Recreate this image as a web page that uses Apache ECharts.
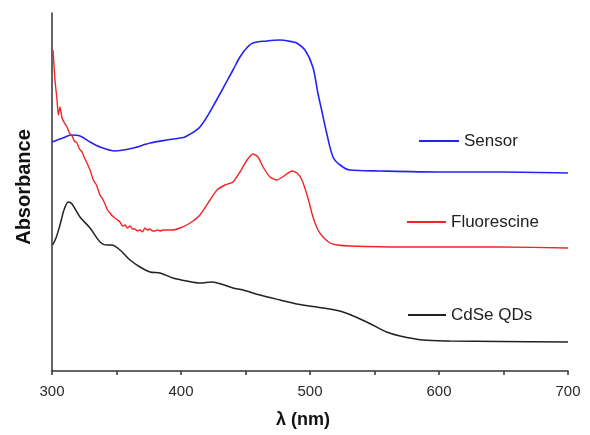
<!DOCTYPE html>
<html>
<head>
<meta charset="utf-8">
<script src="https://cdn.jsdelivr.net/npm/echarts@6/dist/echarts.min.js"></script>
<style>html,body{margin:0;padding:0;background:#fff}#c{width:590px;height:435px}</style>
</head>
<body>
<div id="c"></div>
<script>
// Wavelength (nm) / absorbance (a.u., offset traces)
var sensorData = [
  [300.0,2.29],[308.3,2.33],[315.0,2.36],[321.7,2.35],[329.5,2.29],[337.2,2.24],[348.8,2.20],
  [362.9,2.23],[376.0,2.28],[389.0,2.31],[399.2,2.33],[403.1,2.34],[414.7,2.44],[427.6,2.71],
  [440.3,3.01],[445.7,3.14],[450.9,3.23],[455.8,3.28],[466.4,3.30],[476.7,3.31],[486.8,3.29],
  [489.7,3.28],[496.1,3.21],[502.2,3.04],[506.1,2.78],[509.0,2.61],[512.9,2.38],[517.8,2.14],
  [523.3,2.06],[531.0,2.01],[554.3,2.00],[600,1.99],[650,1.99],[700.0,1.98]
];
var fluoresceinData = [
  [300.8,3.21],[302.3,2.91],[303.9,2.71],[304.9,2.56],[306.2,2.64],[307.8,2.53],[310.1,2.47],
  [311.6,2.44],[313.5,2.38],[315.5,2.35],[317.4,2.30],[319.4,2.28],[321.3,2.22],[323.3,2.19],
  [325.2,2.13],[327.1,2.08],[329.5,2.01],[332.0,1.91],[334.5,1.86],[337.2,1.76],[339.2,1.72],
  [341.1,1.67],[343.0,1.61],[345.0,1.58],[346.9,1.55],[348.8,1.53],[350.8,1.51],[352.7,1.49],
  [354.6,1.45],[356.6,1.46],[358.5,1.43],[360.5,1.45],[362.4,1.42],[364.3,1.42],[366.3,1.40],
  [368.2,1.41],[370.1,1.39],[372.1,1.43],[374.0,1.41],[376.0,1.42],[377.9,1.40],[379.8,1.40],
  [381.8,1.41],[383.7,1.40],[386.4,1.41],[389.1,1.41],[393.8,1.41],[399.2,1.43],[404.4,1.46],
  [409.3,1.50],[414.7,1.56],[422.5,1.71],[427.9,1.81],[434.1,1.86],[440.3,1.89],[445.7,1.99],
  [451.2,2.11],[455.8,2.17],[459.7,2.14],[463.6,2.04],[469.0,1.94],[474.4,1.91],[479.8,1.95],
  [486.0,2.00],[489.9,1.98],[493.8,1.91],[498.4,1.73],[502.3,1.54],[506.2,1.41],[510.1,1.34],
  [515.5,1.28],[521.0,1.26],[531.0,1.25],[569.8,1.24],[608.5,1.24],[647.3,1.24],[700.0,1.23]
];
var cdseData = [
  [300.5,1.26],[303.1,1.33],[306.2,1.46],[309.3,1.61],[312.6,1.69],[315.5,1.67],[321.7,1.54],
  [329.5,1.43],[337.2,1.29],[342.4,1.26],[346.3,1.26],[352.7,1.21],[360.5,1.11],[368.2,1.04],
  [376.0,0.99],[383.7,0.98],[393.8,0.93],[404.4,0.90],[414.7,0.88],[423.8,0.89],[440.3,0.83],
  [448.1,0.81],[461.2,0.76],[476.7,0.71],[489.7,0.67],[505.2,0.64],[525.6,0.59],[543.9,0.49],
  [559.4,0.39],[569.8,0.35],[587.6,0.31],[608.5,0.30],[647.3,0.295],[700.0,0.29]
];
var seriesNames = ['Sensor','Fluorescine','CdSe QDs'];
var seriesColors = ['#2323f5','#f52323','#222222'];
var xTicks = [300,400,500,600,700];

var chart = echarts.init(document.getElementById('c'), null, {renderer:'canvas'});
var font = '"Liberation Sans", Arial, sans-serif';
function legendAt(name, left, top, w){
  return {data:[name], left:left, top:top, padding:0, icon:'rect', itemWidth:w, itemHeight:2,
    selectedMode:false, itemGap:0,
    textStyle:{fontFamily:font, fontSize:17, color:'#222', lineHeight:20, padding:[0,0,0,0]}};
}
chart.setOption({
  animation:false,
  grid:{left:52, right:22, top:13, bottom:64},
  legend:[legendAt(seriesNames[0],419,131,40), legendAt(seriesNames[1],407,212,39), legendAt(seriesNames[2],408,305,38)],
  xAxis:{type:'value', min:xTicks[0], max:xTicks[xTicks.length-1], interval:100,
    name:'λ (nm)', nameLocation:'middle', nameGap:40,
    nameTextStyle:{fontFamily:font, fontSize:18, fontWeight:'bold', color:'#111', padding:[0,14,0,0]},
    axisLine:{lineStyle:{color:'#333', width:1.5}},
    axisTick:{show:true, inside:false, length:4, lineStyle:{color:'#333', width:1.5}},
    minorTick:{show:true, splitNumber:2, length:4, lineStyle:{color:'#333', width:1.5}},
    axisLabel:{fontFamily:font, fontSize:15, color:'#2a2a2a', margin:13},
    splitLine:{show:false}},
  yAxis:{type:'value', min:0, max:3.58,
    name:'Absorbance', nameLocation:'middle', nameGap:18, nameRotate:90,
    nameTextStyle:{fontFamily:font, fontSize:20, fontWeight:'bold', color:'#111', padding:[0,0,0,10]},
    axisLine:{show:true, lineStyle:{color:'#333', width:1.5}},
    axisTick:{show:false}, axisLabel:{show:false}, splitLine:{show:false}},
  series:[
    {name:seriesNames[0], type:'line', data:sensorData, showSymbol:false, smooth:0.3,
      lineStyle:{color:seriesColors[0], width:1.6}, itemStyle:{color:seriesColors[0]}},
    {name:seriesNames[1], type:'line', data:fluoresceinData, showSymbol:false, smooth:0.2,
      lineStyle:{color:seriesColors[1], width:1.4}, itemStyle:{color:seriesColors[1]}},
    {name:seriesNames[2], type:'line', data:cdseData, showSymbol:false, smooth:0.3,
      lineStyle:{color:seriesColors[2], width:1.5}, itemStyle:{color:seriesColors[2]}}
  ]
});
</script>
</body>
</html>
